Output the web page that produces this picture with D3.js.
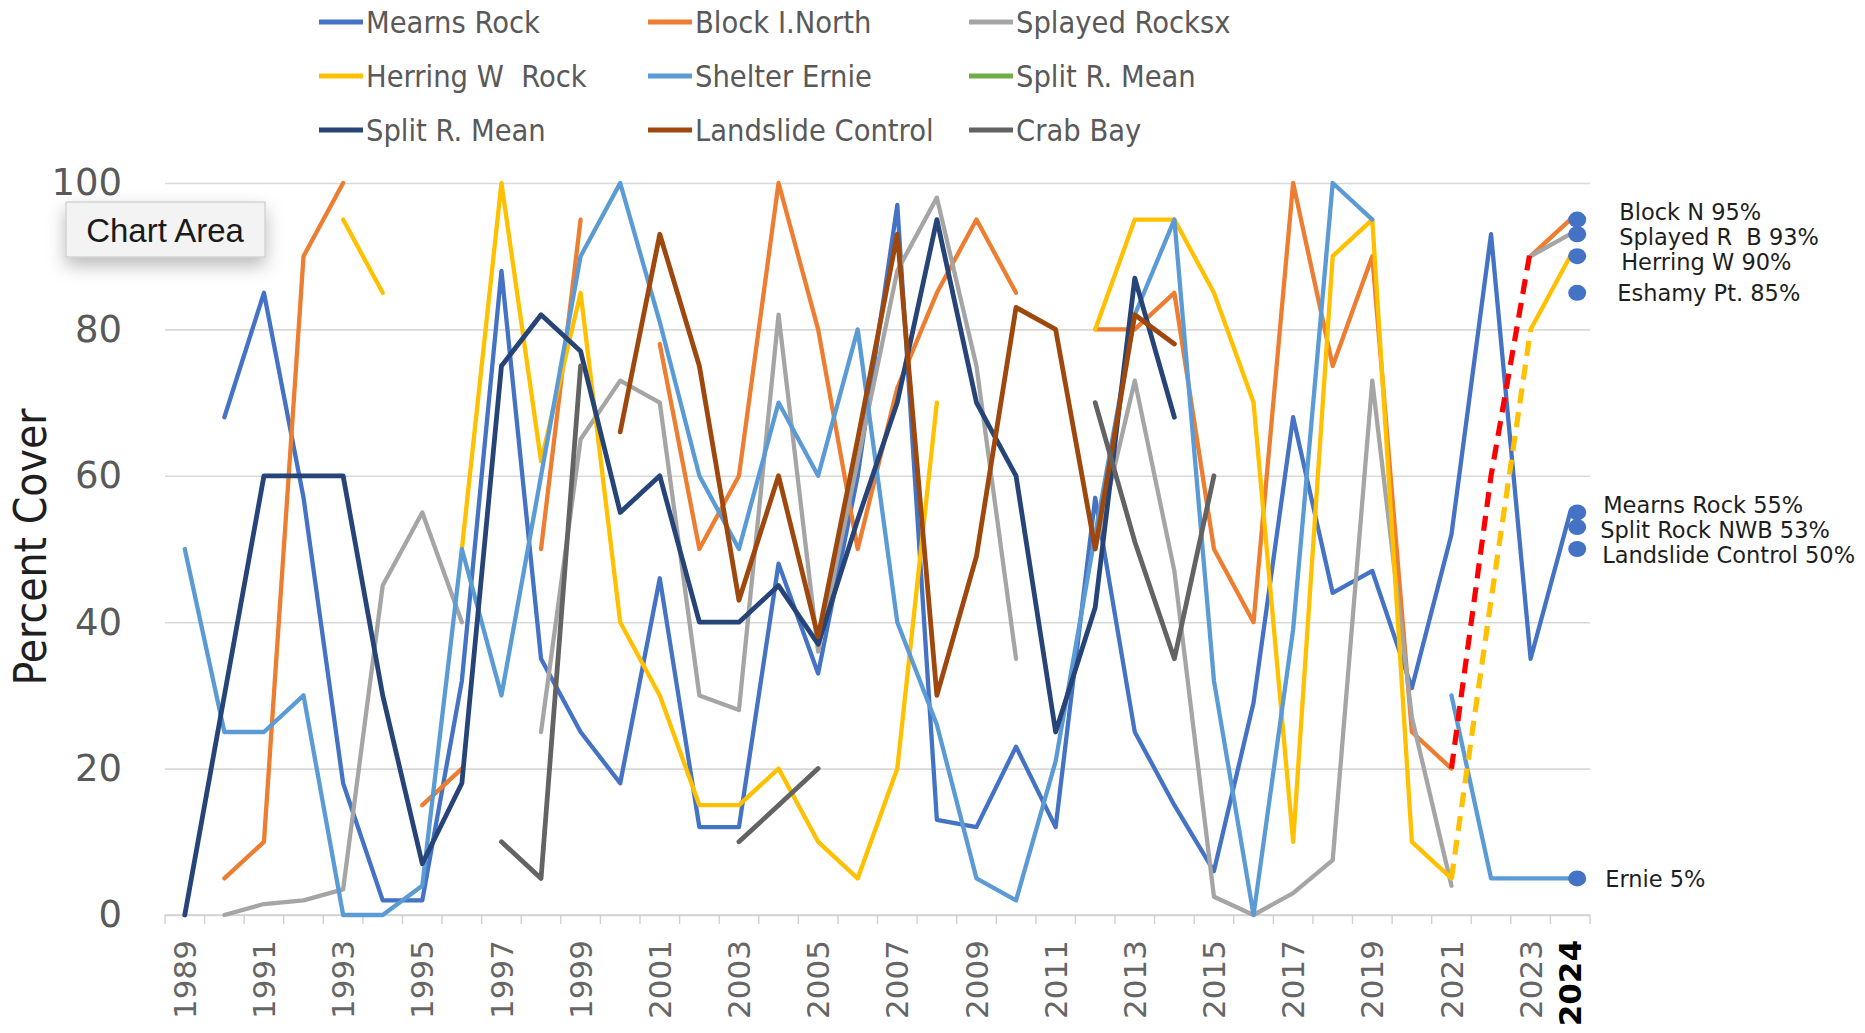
<!DOCTYPE html>
<html>
<head>
<meta charset="utf-8">
<script src="https://cdn.jsdelivr.net/npm/d3@7"></script>
<style>
  html, body { margin: 0; padding: 0; background: #ffffff; }
  svg { display: block; }
  text { white-space: pre; }
</style>
</head>
<body>
<svg id="chart" width="1865" height="1033"></svg>
<script>
// ---- data -------------------------------------------------------------
const years = d3.range(1989, 2025);
const yTickValues = [0, 20, 40, 60, 80, 100];
const xTickYears = [1989, 1991, 1993, 1995, 1997, 1999, 2001, 2003, 2005, 2007,
                    2009, 2011, 2013, 2015, 2017, 2019, 2021, 2023, 2024];

const seriesNames = ["Mearns Rock", "Block I.North", "Splayed Rocksx",
                     "Herring W  Rock", "Shelter Ernie", "Split R. Mean",
                     "Split R. Mean", "Landslide Control", "Crab Bay"];

//                 1989 ...                                                                                                   ... 2024
const mearnsRock   = [null,68,85,57,18,2,2,32,88,35,25,18,46,12,12,48,33,60,97,13,12,23,12,57,25,15,6,29,68,44,47,31,52,93,35,55];
const blockNorth   = [null,5,10,90,100,null,15,20,null,50,95,null,78,50,60,100,80,50,72,85,95,85,null,80,80,85,50,40,100,75,90,25,20,null,90,95];
const splayedRocks = [null,0,1.5,2,3.5,45,55,40,null,25,65,73,70,30,28,82,36,62,88,98,75,35,null,50,73,47,2.5,0,3,7.5,73,27,4,null,90,93];
const herringW     = [null,null,null,null,95,85,null,50,100,62,85,40,30,15,15,20,10,5,20,70,null,null,null,80,95,95,85,70,10,90,95,10,5,null,80,90];
const shelterErnie = [50,25,25,30,0,0,4,50,30,60,90,100,81,60,50,70,60,80,40,26,5,2,21,52,82,95,32,0,39,100,95,null,30,5,5,5];
const splitGreen   = years.map(() => null);
const splitMean    = [0,30,60,60,60,30,7,18,75,82,77,55,60,40,40,45,37,54,70,95,70,60,25,42,87,68,null,null,null,null,null,null,null,null,null,null];
const landslide    = [null,null,null,null,null,null,null,null,null,null,null,66,93,75,43,60,38,65,93,30,49,83,80,50,82,78,null,null,null,null,null,null,null,null,null,null];
const crabBay      = [null,null,null,null,null,null,null,null,10,5,75,null,null,null,10,15,20,null,null,null,null,null,null,70,51,35,60,null,null,null,null,null,null,null,null,null];

// projected links between survey years
const linkYears    = [2021, 2022, 2023];
const redLink      = [20, 60, 91];
const yellowLink   = [5, 43, 80];

// 2024 call-outs
const calloutLabels = ["Block N 95%", "Splayed R  B 93%", "Herring W 90%", "Eshamy Pt. 85%",
                       "Mearns Rock 55%", "Split Rock NWB 53%", "Landslide Control 50%", "Ernie 5%"];
const calloutValues = [95, 93, 90, 85, 55, 53, 50, 5];

// ---- styling ----------------------------------------------------------
const seriesColors = ["#4472C4", "#ED7D31", "#A5A5A5", "#FFC000", "#5B9BD5",
                      "#70AD47", "#264478", "#9E480E", "#636363"];
const seriesData = [mearnsRock, blockNorth, splayedRocks, herringW, shelterErnie,
                    splitGreen, splitMean, landslide, crabBay];
const calloutIndent = [42, 42, 44, 40, 26, 23, 25, 28];

const svg = d3.select("#chart");

const x = d3.scaleBand().domain(years).range([165, 1590]);
const xc = yr => x(yr) + x.bandwidth() / 2;
const y = d3.scaleLinear().domain([0, 100]).range([915, 183]);

const defs = svg.append("defs");
const shadow = defs.append("filter").attr("id", "boxShadow")
  .attr("x", "-30%").attr("y", "-40%").attr("width", "160%").attr("height", "220%");
shadow.append("feDropShadow").attr("dx", 0).attr("dy", 8)
  .attr("stdDeviation", 9).attr("flood-color", "#000").attr("flood-opacity", 0.28);

// ---- gridlines & y axis -------------------------------------------------
const gridG = svg.append("g")
  .attr("transform", `translate(${x.range()[0]},0)`)
  .call(d3.axisLeft(y).tickValues(yTickValues).tickSize(-(x.range()[1] - x.range()[0])).tickFormat(""));
gridG.select(".domain").remove();
gridG.selectAll(".tick line").attr("stroke", "#d9d9d9").attr("stroke-width", 1.6);

const yAxisG = svg.append("g")
  .attr("transform", "translate(122,0)")
  .call(d3.axisLeft(y).tickValues(yTickValues).tickSize(0).tickPadding(0));
yAxisG.select(".domain").remove();
yAxisG.selectAll(".tick text")
  .attr("font-family", "'DejaVu Sans', sans-serif")
  .attr("font-size", 37)
  .attr("fill", "#595959")
  .attr("text-anchor", "end")
  .attr("x", 0);

svg.append("text")
  .attr("transform", `translate(46,547) rotate(-90)`)
  .attr("text-anchor", "middle")
  .attr("font-family", "'DejaVu Sans Condensed', 'DejaVu Sans', sans-serif")
  .attr("font-stretch", "condensed")
  .attr("font-size", 44)
  .attr("fill", "#1f1f1f")
  .text("Percent Cover");

// ---- x axis -------------------------------------------------------------
svg.append("line")
  .attr("x1", x.range()[0]).attr("x2", x.range()[1])
  .attr("y1", y(0)).attr("y2", y(0))
  .attr("stroke", "#d0d0d0").attr("stroke-width", 1.6);

const boundaries = years.map(yr => x(yr)).concat([x.range()[1]]);
svg.append("g").selectAll("line").data(boundaries).join("line")
  .attr("x1", d => d).attr("x2", d => d)
  .attr("y1", y(0)).attr("y2", y(0) + 9)
  .attr("stroke", "#d0d0d0").attr("stroke-width", 1.4);

const xAxisG = svg.append("g")
  .attr("transform", `translate(0,${y(0)})`)
  .call(d3.axisBottom(x).tickValues(xTickYears).tickSize(0).tickPadding(0));
xAxisG.select(".domain").remove();
xAxisG.selectAll(".tick text")
  .attr("font-family", "'DejaVu Sans', sans-serif")
  .attr("font-size", 31)
  .attr("fill", d => d === 2024 ? "#000000" : "#666666")
  .attr("font-weight", d => d === 2024 ? "bold" : "normal")
  .attr("text-anchor", "end")
  .attr("transform", "rotate(-90)")
  .attr("x", -25)
  .attr("y", 0)
  .attr("dy", "0.36em");

// ---- series lines -------------------------------------------------------
const line = d3.line()
  .defined(d => d.v !== null)
  .x(d => xc(d.year))
  .y(d => y(d.v));

const seriesG = svg.append("g").attr("fill", "none")
  .attr("stroke-linejoin", "round").attr("stroke-linecap", "round");
seriesData.forEach((vals, i) => {
  const pts = years.map((yr, j) => ({ year: yr, v: vals[j] }));
  seriesG.append("path")
    .attr("d", line(pts))
    .attr("stroke", seriesColors[i])
    .attr("stroke-width", (i === 6 || i === 7 || i === 8) ? 4.8 : 4.3);
});

// dashed projections
[[redLink, "#FF0000"], [yellowLink, "#FFC000"]].forEach(([vals, col]) => {
  const pts = linkYears.map((yr, j) => ({ year: yr, v: vals[j] }));
  seriesG.append("path")
    .attr("d", line(pts))
    .attr("stroke", col)
    .attr("stroke-width", 5.2)
    .attr("stroke-linecap", "butt")
    .attr("stroke-dasharray", "15,9");
});

// ---- 2024 call-outs -----------------------------------------------------
const dotX = xc(2024) + 7;
svg.append("g").selectAll("ellipse").data(calloutValues).join("ellipse")
  .attr("cx", dotX).attr("cy", d => y(d))
  .attr("rx", 9).attr("ry", 8)
  .attr("fill", "#4472C4");

// spread overlapping labels evenly around their mean position
const gap = 25;
const wanted = calloutValues.map(v => y(v));
const placed = wanted.slice();
let groups = wanted.map((w, i) => ({ start: i, end: i, mean: w }));
let merged = true;
while (merged) {
  merged = false;
  for (let g = 0; g < groups.length - 1; g++) {
    const a = groups[g], b = groups[g + 1];
    const aBottom = a.mean + (a.end - a.start) * gap / 2;
    const bTop = b.mean - (b.end - b.start) * gap / 2;
    if (bTop - aBottom < gap) {
      const idx = d3.range(a.start, b.end + 1);
      groups.splice(g, 2, { start: a.start, end: b.end, mean: d3.mean(idx, k => wanted[k]) });
      merged = true;
      break;
    }
  }
}
groups.forEach(g => {
  const n = g.end - g.start;
  for (let k = g.start; k <= g.end; k++) placed[k] = g.mean + (k - g.start - n / 2) * gap;
});

svg.append("g").selectAll("text").data(calloutLabels).join("text")
  .attr("x", (d, i) => dotX + calloutIndent[i])
  .attr("y", (d, i) => placed[i])
  .attr("dy", "0.36em")
  .attr("font-family", "'DejaVu Sans', sans-serif")
  .attr("font-size", 22.5)
  .attr("fill", "#1e1e1e")
  .text(d => d);

// ---- legend -------------------------------------------------------------
const legendCols = [319, 648, 969];
const legendRows = [22, 76, 130];
const legendG = svg.append("g");
seriesNames.forEach((name, i) => {
  const cx = legendCols[i % 3], cy = legendRows[Math.floor(i / 3)];
  legendG.append("line")
    .attr("x1", cx).attr("x2", cx + 44).attr("y1", cy).attr("y2", cy)
    .attr("stroke", seriesColors[i]).attr("stroke-width", 5);
  legendG.append("text")
    .attr("x", cx + 47).attr("y", cy).attr("dy", "0.36em")
    .attr("font-family", "'DejaVu Sans Condensed', 'DejaVu Sans', sans-serif")
    .attr("font-stretch", "condensed")
    .attr("font-size", 30.5)
    .attr("fill", "#595959")
    .text(name);
});

// ---- "Chart Area" hover tag --------------------------------------------
const tag = svg.append("g");
tag.append("rect")
  .attr("x", 66).attr("y", 202).attr("width", 199).attr("height", 55)
  .attr("fill", "#f3f3f3").attr("stroke", "#c4c4c4").attr("stroke-width", 1)
  .attr("filter", "url(#boxShadow)");
tag.append("text")
  .attr("x", 165).attr("y", 230).attr("dy", "0.36em")
  .attr("text-anchor", "middle")
  .attr("font-family", "'Liberation Sans', Arial, sans-serif")
  .attr("font-size", 33)
  .attr("fill", "#1a1a1a")
  .text("Chart Area");
</script>
</body>
</html>
